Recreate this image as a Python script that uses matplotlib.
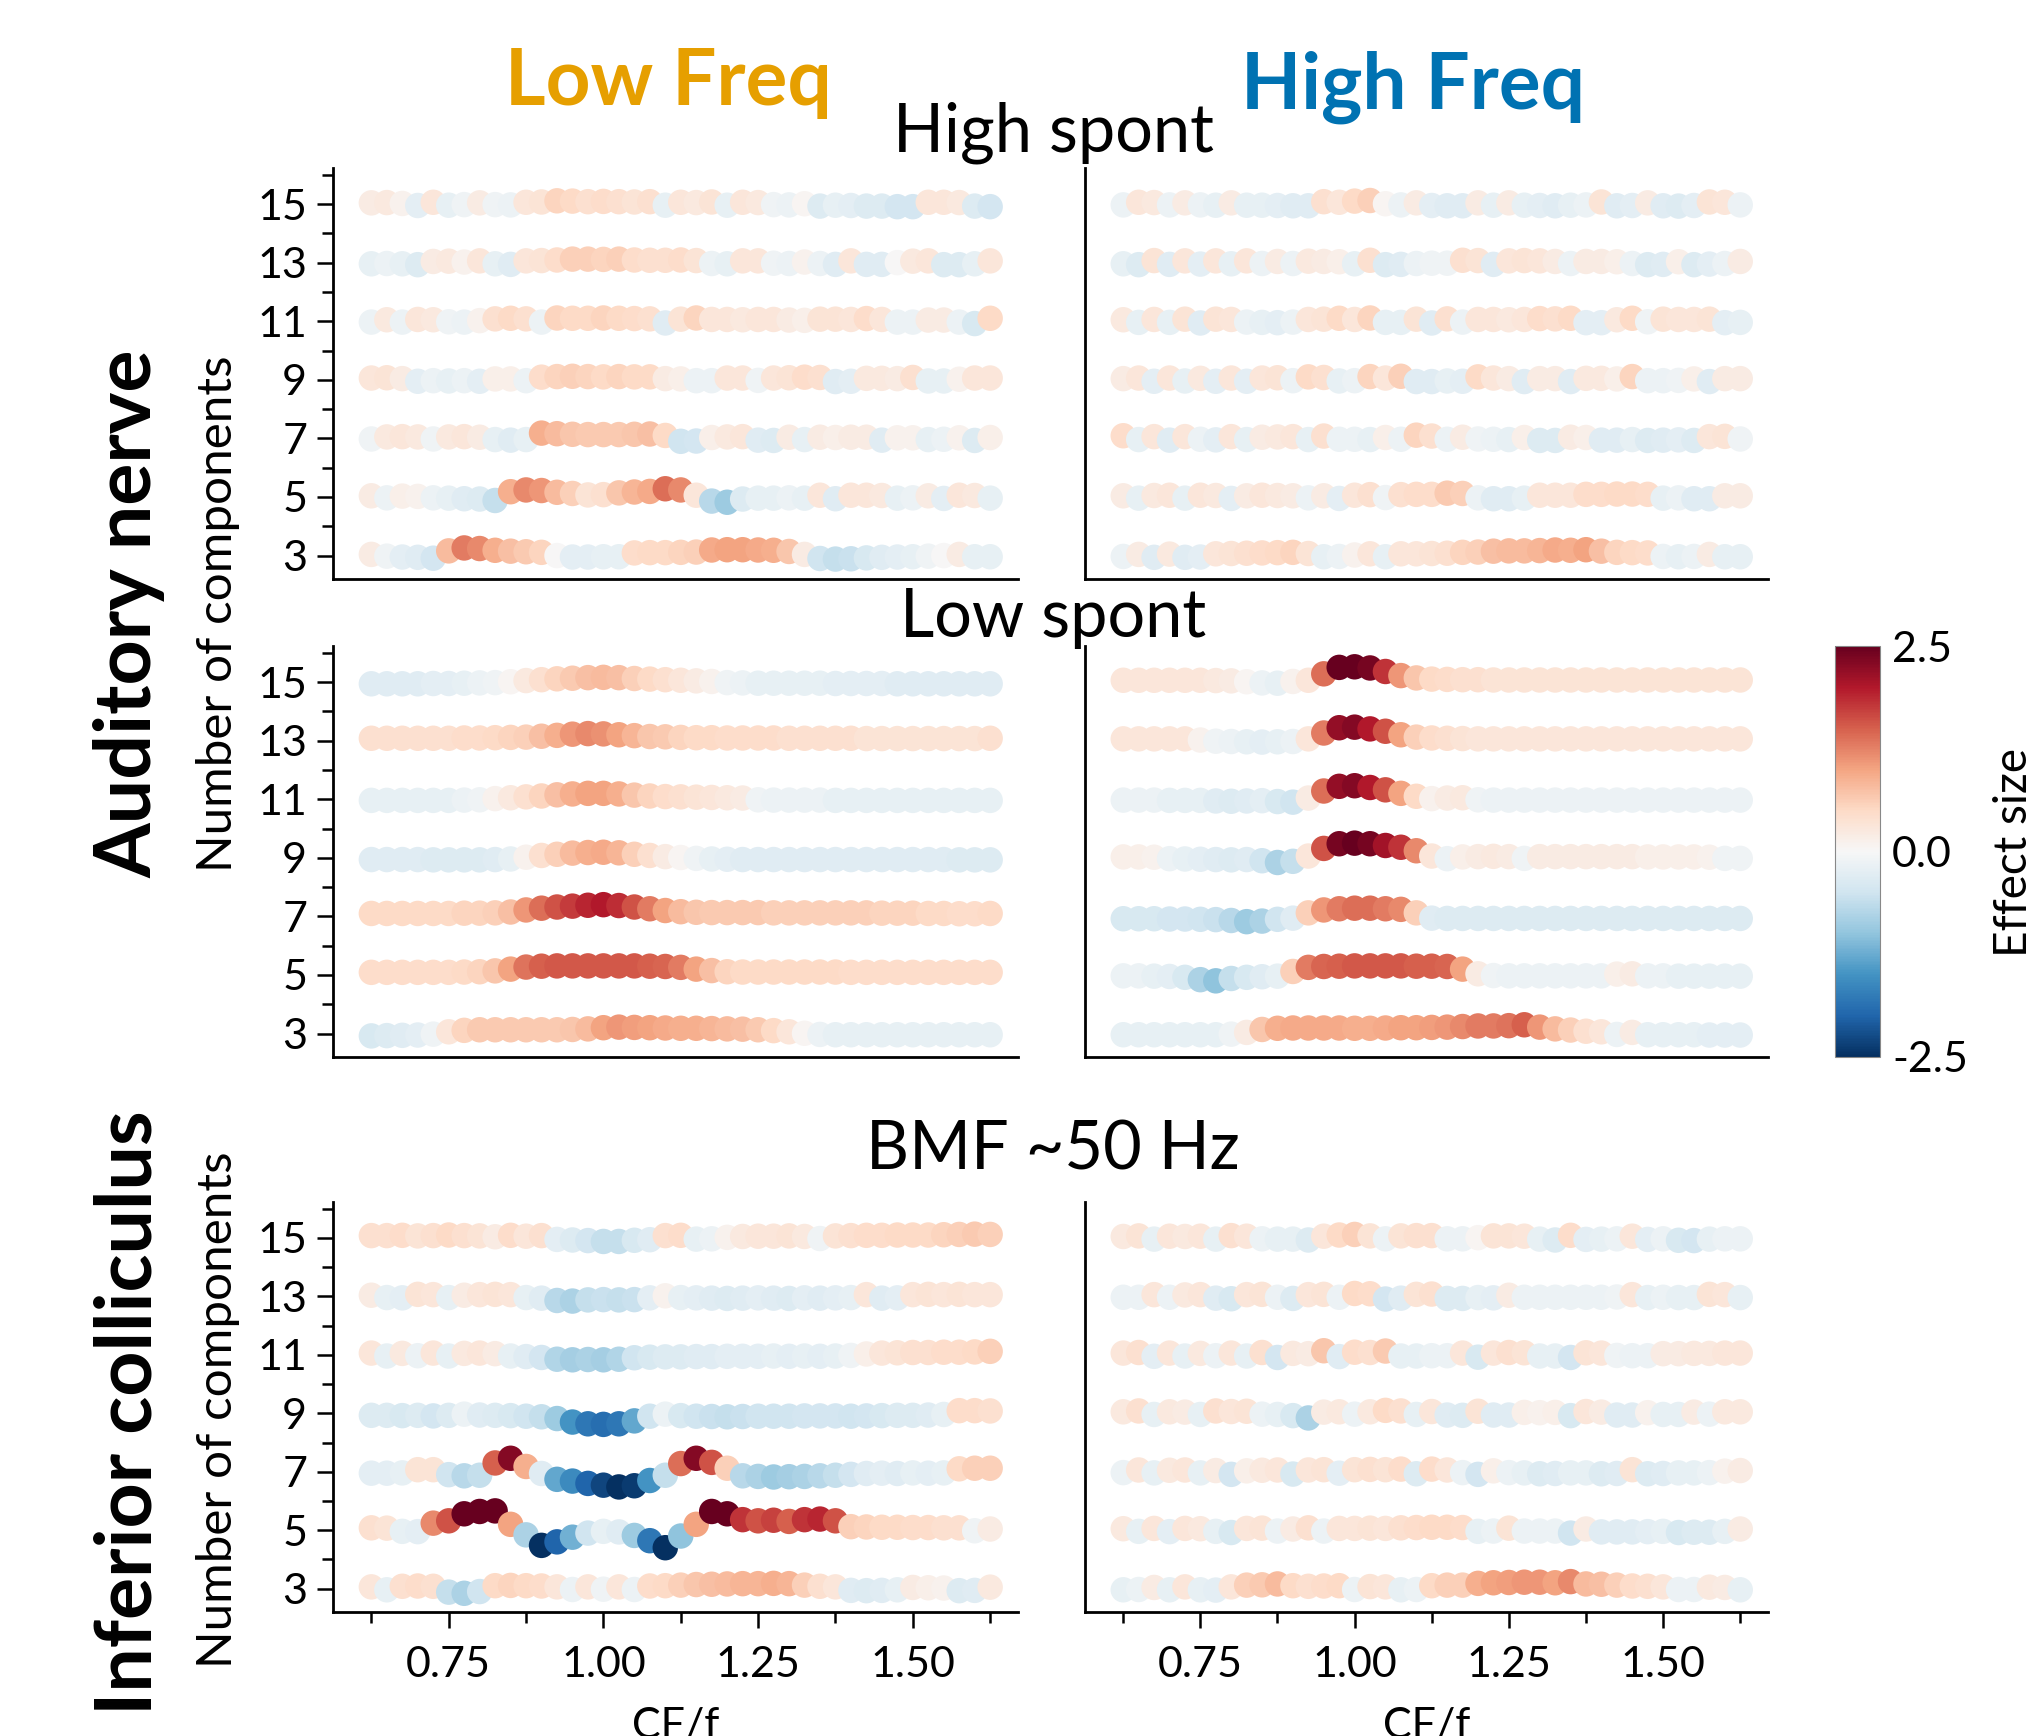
import numpy as np
import matplotlib
matplotlib.use("Agg")
import matplotlib.pyplot as plt
from matplotlib.cm import ScalarMappable
from matplotlib.colors import Normalize
from matplotlib.ticker import FixedLocator

plt.rcParams['font.family'] = ['Lato', 'DejaVu Sans']
plt.rcParams['axes.unicode_minus'] = False

# ---------------------------------------------------------------- data
CF_F = [0.625, 0.650, 0.675, 0.700, 0.725, 0.750, 0.775, 0.800, 0.825, 0.850,
        0.875, 0.900, 0.925, 0.950, 0.975, 1.000, 1.025, 1.050, 1.075, 1.100,
        1.125, 1.150, 1.175, 1.200, 1.225, 1.250, 1.275, 1.300, 1.325, 1.350,
        1.375, 1.400, 1.425, 1.450, 1.475, 1.500, 1.525, 1.550, 1.575, 1.600,
        1.625]
N_COMPONENTS = [3, 5, 7, 9, 11, 13, 15]

# Effect size per CF/f point, one list per number of components.
# Auditory nerve, high spont, low freq
AN_HS_LOW = {
    15: [0.2, 0.25, 0.1, -0.25, 0.3, -0.2, -0.1, 0.2, -0.1, -0.15, 0.3, 0.35, 0.55, 0.5, 0.4, 0.45, 0.4, 0.35, 0.4, -0.2,
         0.3, 0.25, 0.35, -0.2, 0.3, 0.25, -0.1, -0.15, 0.05, -0.35, -0.2, -0.25, -0.35, -0.35, -0.45, -0.45, 0.3, 0.3, 0.25, -0.35, -0.45],
    13: [-0.2, -0.15, -0.2, -0.35, 0.2, 0.25, 0.1, 0.3, -0.2, -0.3, 0.3, 0.35, 0.45, 0.6, 0.6, 0.55, 0.6, 0.45, 0.4, 0.4,
         0.45, 0.35, -0.15, -0.2, 0.3, 0.3, -0.1, -0.15, 0.1, -0.15, -0.3, 0.3, -0.3, -0.3, 0.0, 0.25, 0.3, -0.35, -0.35, -0.2, 0.3],
    11: [-0.15, 0.25, -0.15, 0.3, 0.25, -0.1, -0.15, 0.1, 0.4, 0.5, 0.4, -0.15, 0.55, 0.5, 0.5, 0.55, 0.5, 0.45, 0.4, -0.3,
         0.35, 0.55, 0.3, 0.3, 0.25, 0.3, 0.3, 0.2, 0.15, 0.35, 0.35, 0.3, 0.45, 0.3, -0.15, -0.15, 0.2, 0.2, -0.15, -0.4, 0.5],
    9: [0.3, 0.35, 0.2, -0.25, -0.15, -0.2, -0.15, -0.25, 0.15, 0.15, -0.15, 0.45, 0.55, 0.6, 0.55, 0.5, 0.55, 0.5, 0.5, 0.2,
        0.15, -0.15, -0.15, 0.3, 0.3, -0.1, 0.3, 0.35, 0.45, 0.4, -0.3, -0.25, 0.25, 0.25, 0.2, 0.4, -0.2, -0.2, 0.1, 0.3, 0.3],
    7: [-0.1, 0.25, 0.3, 0.25, -0.1, 0.25, 0.3, 0.2, -0.2, -0.3, -0.2, 0.9, 0.8, 0.7, 0.65, 0.65, 0.65, 0.7, 0.75, 0.5,
        -0.5, -0.45, 0.15, 0.25, 0.3, -0.3, -0.35, 0.2, -0.2, 0.2, 0.15, 0.2, 0.2, -0.3, 0.1, 0.1, -0.2, -0.15, 0.1, -0.35, 0.15],
    5: [0.2, -0.15, 0.15, 0.1, -0.15, -0.2, -0.3, -0.35, -0.6, 0.9, 1.2, 1.1, 0.8, 0.6, 0.35, 0.4, 0.7, 0.85, 0.95, 1.4,
        1.2, 0.3, -0.7, -0.9, -0.35, -0.2, -0.2, -0.15, -0.2, 0.3, -0.3, 0.3, 0.3, 0.25, -0.2, -0.15, 0.2, -0.25, 0.3, 0.25, -0.2],
    3: [0.2, -0.1, -0.25, -0.3, -0.45, 0.8, 1.3, 1.2, 0.9, 0.75, 0.65, 0.55, 0.0, -0.25, -0.25, -0.2, -0.2, 0.45, 0.5, 0.5,
        0.55, 0.6, 0.95, 1.0, 1.0, 0.95, 0.9, 0.7, 0.2, -0.5, -0.6, -0.55, -0.4, -0.3, -0.25, -0.2, -0.1, 0.0, 0.2, -0.2, -0.2],
}
# Auditory nerve, high spont, high freq
AN_HS_HIGH = {
    15: [-0.15, 0.3, 0.25, -0.15, 0.2, -0.15, -0.2, 0.2, -0.2, -0.2, -0.25, -0.3, -0.3, 0.4, 0.3, 0.5, 0.6, 0.05, -0.15, 0.2,
         -0.25, -0.3, -0.3, 0.2, -0.2, 0.2, -0.2, -0.25, -0.3, -0.2, -0.15, 0.35, -0.3, -0.25, 0.2, -0.3, -0.35, -0.25, 0.35, 0.3, -0.15],
    13: [-0.2, -0.35, 0.35, -0.3, 0.3, -0.25, 0.3, -0.2, 0.3, -0.15, 0.2, -0.15, 0.25, 0.2, 0.15, -0.2, 0.4, -0.35, -0.3, -0.15,
         -0.1, -0.1, 0.4, 0.35, -0.3, 0.3, 0.35, 0.3, 0.2, -0.15, 0.2, 0.2, 0.15, -0.15, -0.35, -0.3, 0.15, -0.35, -0.25, -0.15, 0.2],
    11: [0.25, -0.2, 0.3, -0.2, 0.35, -0.3, 0.35, 0.3, -0.15, -0.2, -0.25, -0.15, 0.3, 0.35, 0.5, 0.3, 0.55, -0.2, -0.2, 0.35,
         -0.3, 0.4, -0.15, 0.3, 0.3, 0.25, 0.3, 0.45, 0.4, 0.5, -0.25, -0.25, 0.25, 0.5, -0.1, 0.35, 0.3, 0.3, 0.35, -0.25, -0.2],
    9: [0.2, 0.3, -0.25, 0.3, -0.2, 0.25, -0.25, 0.3, -0.25, 0.3, 0.35, -0.15, 0.5, 0.4, -0.2, -0.15, 0.55, 0.3, 0.6, -0.3,
        -0.3, -0.2, -0.25, 0.5, 0.3, 0.2, -0.3, 0.2, 0.2, -0.3, 0.25, 0.25, 0.15, 0.55, -0.15, -0.15, -0.1, 0.15, -0.3, 0.2, 0.2],
    7: [0.45, -0.2, 0.3, -0.3, 0.3, -0.15, -0.25, 0.3, -0.2, 0.2, 0.25, 0.3, -0.2, 0.4, -0.15, -0.15, -0.2, 0.15, -0.15, 0.55,
        0.4, -0.15, 0.2, -0.1, -0.15, -0.2, 0.15, -0.35, -0.35, 0.2, 0.15, -0.3, -0.3, -0.2, -0.35, -0.3, -0.25, -0.35, 0.3, 0.35, -0.1],
    5: [0.2, -0.2, 0.25, 0.3, -0.2, 0.3, 0.25, -0.25, 0.2, 0.3, 0.25, 0.2, -0.15, 0.2, -0.25, 0.3, 0.4, -0.1, 0.4, 0.45,
        0.45, 0.65, 0.6, -0.15, -0.3, -0.3, -0.2, 0.3, 0.3, 0.3, 0.45, 0.45, 0.5, 0.5, 0.45, -0.2, -0.15, -0.3, -0.3, 0.2, 0.2],
    3: [-0.15, 0.2, -0.3, 0.25, -0.3, -0.25, 0.3, 0.35, 0.4, 0.45, 0.5, 0.55, 0.35, -0.2, -0.15, 0.1, 0.3, -0.2, 0.3, 0.3,
        0.35, 0.4, 0.55, 0.6, 0.75, 0.8, 0.8, 0.85, 0.95, 0.9, 1.0, 0.75, 0.55, 0.5, 0.45, -0.15, -0.2, -0.15, 0.2, -0.2, -0.2],
}
# Auditory nerve, low spont, low freq
AN_LS_LOW = {
    15: [-0.3, -0.3, -0.3, -0.3, -0.25, -0.25, -0.2, -0.15, -0.1, 0.05, 0.25, 0.4, 0.55, 0.65, 0.75, 0.8, 0.75, 0.6, 0.5, 0.4,
         0.3, 0.2, 0.1, -0.1, -0.15, -0.2, -0.2, -0.2, -0.2, -0.2, -0.25, -0.25, -0.25, -0.25, -0.3, -0.3, -0.3, -0.3, -0.3, -0.3, -0.3],
    13: [0.4, 0.4, 0.4, 0.4, 0.4, 0.4, 0.45, 0.45, 0.5, 0.55, 0.6, 0.75, 0.9, 1.1, 1.2, 1.15, 1.0, 0.85, 0.7, 0.65,
         0.55, 0.5, 0.5, 0.45, 0.45, 0.45, 0.45, 0.4, 0.4, 0.4, 0.4, 0.4, 0.35, 0.35, 0.35, 0.35, 0.35, 0.35, 0.35, 0.35, 0.4],
    11: [-0.2, -0.2, -0.2, -0.2, -0.2, -0.2, -0.15, -0.1, 0.1, 0.25, 0.4, 0.55, 0.75, 0.9, 1.0, 1.0, 0.9, 0.7, 0.55, 0.45,
         0.4, 0.35, 0.3, 0.25, 0.2, -0.1, -0.15, -0.15, -0.15, -0.15, -0.2, -0.2, -0.2, -0.2, -0.2, -0.2, -0.2, -0.2, -0.2, -0.2, -0.2],
    9: [-0.3, -0.3, -0.3, -0.3, -0.35, -0.35, -0.35, -0.35, -0.3, -0.2, 0.1, 0.4, 0.6, 0.8, 0.9, 0.95, 0.85, 0.6, 0.4, 0.2,
        0.05, -0.1, -0.2, -0.25, -0.3, -0.3, -0.3, -0.3, -0.3, -0.3, -0.3, -0.3, -0.3, -0.3, -0.3, -0.3, -0.3, -0.3, -0.35, -0.35, -0.35],
    7: [0.5, 0.5, 0.5, 0.5, 0.5, 0.5, 0.55, 0.55, 0.6, 0.75, 1.1, 1.4, 1.6, 1.75, 1.9, 2.0, 1.85, 1.6, 1.3, 1.0,
        0.8, 0.7, 0.65, 0.65, 0.65, 0.65, 0.6, 0.6, 0.6, 0.6, 0.6, 0.6, 0.6, 0.55, 0.55, 0.55, 0.5, 0.5, 0.45, 0.45, 0.5],
    5: [0.45, 0.45, 0.45, 0.45, 0.45, 0.45, 0.5, 0.55, 0.7, 1.0, 1.35, 1.5, 1.55, 1.55, 1.55, 1.55, 1.55, 1.55, 1.5, 1.45,
        1.3, 1.0, 0.75, 0.55, 0.5, 0.5, 0.5, 0.5, 0.5, 0.5, 0.5, 0.45, 0.45, 0.45, 0.45, 0.45, 0.45, 0.45, 0.45, 0.45, 0.45],
    3: [-0.4, -0.35, -0.3, -0.25, -0.1, 0.3, 0.55, 0.65, 0.65, 0.65, 0.65, 0.65, 0.65, 0.7, 0.8, 1.0, 1.1, 1.05, 1.0, 0.95,
        0.9, 0.9, 0.85, 0.8, 0.75, 0.65, 0.5, 0.3, 0.05, -0.15, -0.2, -0.2, -0.2, -0.2, -0.2, -0.2, -0.2, -0.2, -0.2, -0.2, -0.2],
}
# Auditory nerve, low spont, high freq
AN_LS_HIGH = {
    15: [0.3, 0.3, 0.3, 0.3, 0.3, 0.3, 0.25, 0.2, 0.05, -0.15, -0.2, 0.1, 0.3, 1.4, 2.5, 2.6, 2.4, 1.8, 1.1, 0.7,
         0.5, 0.45, 0.4, 0.4, 0.35, 0.35, 0.35, 0.35, 0.35, 0.35, 0.35, 0.35, 0.35, 0.35, 0.35, 0.35, 0.35, 0.35, 0.35, 0.35, 0.35],
    13: [0.3, 0.3, 0.3, 0.3, 0.3, 0.1, -0.1, -0.15, -0.2, -0.25, -0.2, -0.15, 0.3, 1.3, 2.2, 2.3, 2.0, 1.6, 1.0, 0.6,
         0.45, 0.4, 0.35, 0.3, 0.3, 0.3, 0.3, 0.3, 0.3, 0.3, 0.3, 0.3, 0.3, 0.3, 0.3, 0.3, 0.3, 0.3, 0.3, 0.3, 0.3],
    11: [-0.15, -0.15, -0.15, -0.2, -0.2, -0.2, -0.3, -0.35, -0.3, -0.25, -0.4, -0.5, 0.2, 1.4, 2.2, 2.3, 2.0, 1.6, 1.0, 0.5,
         0.1, 0.2, 0.25, -0.1, -0.15, -0.15, -0.15, -0.15, -0.15, -0.15, -0.15, -0.15, -0.15, -0.15, -0.15, -0.15, -0.15, -0.15, -0.15, -0.15, -0.15],
    9: [0.15, 0.15, 0.1, -0.15, -0.2, -0.25, -0.3, -0.35, -0.3, -0.5, -0.8, -0.6, 0.3, 1.6, 2.4, 2.5, 2.4, 2.1, 1.8, 1.2,
        0.3, -0.15, 0.15, 0.2, 0.25, 0.2, -0.1, 0.2, 0.2, 0.2, 0.2, 0.2, 0.2, 0.2, 0.15, 0.15, 0.15, 0.15, 0.1, -0.1, -0.1],
    7: [-0.4, -0.4, -0.4, -0.45, -0.45, -0.5, -0.55, -0.7, -0.9, -0.8, -0.5, -0.3, 0.6, 1.1, 1.3, 1.4, 1.4, 1.3, 1.2, 0.6,
        -0.3, -0.35, -0.35, -0.35, -0.35, -0.35, -0.35, -0.35, -0.35, -0.35, -0.35, -0.35, -0.35, -0.35, -0.35, -0.35, -0.35, -0.35, -0.35, -0.35, -0.35],
    5: [-0.15, -0.15, -0.2, -0.25, -0.4, -0.8, -1.0, -0.6, -0.4, -0.3, -0.2, 0.6, 1.3, 1.45, 1.5, 1.55, 1.55, 1.55, 1.55, 1.5,
        1.5, 1.45, 1.0, 0.2, -0.1, -0.15, -0.15, -0.15, -0.15, -0.15, -0.15, -0.15, 0.15, 0.2, -0.15, -0.15, -0.2, -0.2, -0.2, -0.2, -0.2],
    3: [-0.2, -0.2, -0.2, -0.2, -0.2, -0.2, -0.2, -0.1, 0.2, 0.7, 0.9, 0.95, 0.95, 0.95, 0.95, 0.9, 0.9, 0.95, 1.0, 1.0,
        1.05, 1.1, 1.2, 1.3, 1.3, 1.35, 1.5, 1.1, 0.8, 0.6, 0.4, 0.3, -0.15, 0.2, -0.2, -0.2, -0.2, -0.2, -0.25, -0.25, -0.25],
}
# Inferior colliculus, BMF ~50 Hz, low freq
IC_LOW = {
    15: [0.4, 0.4, 0.45, 0.35, 0.4, 0.5, 0.4, 0.35, 0.2, 0.45, 0.3, 0.4, -0.25, -0.35, -0.45, -0.6, -0.6, -0.4, -0.3, 0.4,
         0.45, -0.2, -0.15, 0.1, 0.25, 0.3, 0.3, 0.35, 0.25, -0.1, 0.35, 0.4, 0.45, 0.45, 0.5, 0.5, 0.5, 0.55, 0.6, 0.65, 0.6],
    13: [0.2, -0.2, -0.25, 0.35, 0.3, -0.2, 0.2, 0.3, 0.35, 0.3, -0.2, -0.3, -0.7, -0.8, -0.6, -0.55, -0.6, -0.55, -0.25, 0.1,
         -0.2, -0.25, -0.3, -0.35, -0.3, -0.25, -0.3, -0.35, -0.25, -0.3, -0.25, -0.2, 0.3, -0.3, -0.25, 0.3, 0.35, 0.3, 0.35, 0.3, 0.3],
    11: [0.3, -0.2, 0.25, -0.15, 0.3, -0.2, 0.25, 0.3, 0.2, -0.2, -0.3, -0.45, -0.75, -0.85, -0.8, -0.85, -0.75, -0.5, -0.4, -0.35,
         -0.35, -0.3, -0.3, -0.25, -0.25, -0.25, -0.2, -0.25, -0.2, -0.25, -0.2, -0.1, 0.15, 0.3, 0.35, 0.4, 0.4, 0.45, 0.45, 0.5, 0.6],
    9: [-0.35, -0.35, -0.4, -0.35, -0.45, -0.35, -0.15, -0.3, -0.35, -0.4, -0.5, -0.6, -0.9, -1.5, -1.8, -1.9, -1.8, -1.3, -0.5, -0.15,
        -0.4, -0.5, -0.55, -0.6, -0.55, -0.5, -0.5, -0.5, -0.45, -0.45, -0.45, -0.5, -0.45, -0.4, -0.35, -0.35, -0.3, -0.2, 0.45, 0.45, 0.4],
    7: [-0.25, -0.25, -0.2, 0.35, 0.35, -0.5, -0.7, -0.6, 1.5, 2.3, 0.9, -0.3, -1.3, -1.6, -2.0, -2.3, -2.6, -2.4, -1.5, -0.6,
        1.4, 2.3, 1.6, 0.6, -0.7, -0.8, -0.9, -0.85, -0.8, -0.7, -0.6, -0.45, -0.3, -0.25, -0.3, -0.2, -0.25, -0.2, 0.5, 0.6, 0.6],
    5: [0.4, 0.35, -0.2, -0.25, 1.2, 1.6, 2.8, 3.2, 3.3, 1.0, -0.8, -2.6, -2.0, -1.2, -0.5, -0.2, -0.3, -0.9, -1.8, -3.0,
        -1.0, 1.0, 3.2, 2.8, 1.8, 1.6, 1.7, 1.5, 1.8, 1.9, 1.6, 0.6, 0.55, 0.5, 0.5, 0.45, 0.45, 0.4, 0.4, -0.1, 0.2],
    3: [0.3, -0.2, 0.4, 0.45, 0.4, -0.6, -0.8, -0.5, 0.5, 0.55, 0.5, 0.45, 0.3, -0.15, 0.3, -0.1, 0.3, -0.15, 0.45, 0.5,
        0.6, 0.7, 0.75, 0.8, 0.85, 0.85, 0.9, 0.85, 0.6, 0.4, 0.3, -0.3, -0.35, -0.3, -0.2, 0.2, 0.15, 0.1, -0.35, -0.3, 0.25],
}
# Inferior colliculus, BMF ~50 Hz, high freq
IC_HIGH = {
    15: [0.25, 0.35, -0.2, 0.3, 0.25, 0.3, -0.2, 0.4, 0.3, -0.15, -0.2, -0.2, -0.35, 0.3, 0.5, 0.6, 0.35, -0.15, 0.35, 0.4,
         0.4, -0.15, -0.15, 0.05, 0.35, 0.35, 0.3, -0.2, -0.35, 0.45, -0.25, -0.2, -0.15, 0.3, -0.25, -0.15, -0.4, -0.45, -0.2, -0.15, -0.15],
    13: [-0.15, -0.15, 0.3, -0.15, 0.25, 0.3, -0.3, -0.4, 0.3, 0.35, -0.15, -0.35, 0.3, 0.35, -0.15, 0.5, 0.45, -0.45, -0.3, 0.35,
         0.4, -0.35, -0.35, -0.2, -0.25, 0.2, -0.15, -0.15, -0.15, -0.15, -0.15, -0.15, -0.1, 0.3, -0.2, -0.15, -0.2, -0.2, 0.35, 0.3, -0.2],
    11: [0.3, 0.4, -0.25, 0.3, -0.2, 0.25, -0.15, 0.3, -0.2, 0.4, -0.45, 0.25, 0.2, 0.7, -0.3, 0.45, 0.4, 0.65, -0.2, -0.2,
         -0.15, -0.15, 0.3, -0.4, 0.3, 0.4, 0.35, -0.2, -0.2, -0.45, 0.35, 0.3, -0.1, -0.15, -0.15, 0.2, 0.2, 0.25, 0.25, 0.3, 0.3],
    9: [0.25, 0.4, -0.2, 0.25, 0.2, -0.2, 0.4, 0.3, 0.35, -0.15, -0.2, -0.4, -0.8, 0.2, 0.25, -0.15, 0.25, 0.5, 0.4, -0.2,
        0.3, -0.3, -0.35, 0.35, -0.3, -0.3, 0.15, 0.1, 0.15, -0.4, 0.3, 0.2, -0.3, -0.3, 0.1, -0.2, -0.2, 0.2, -0.15, 0.25, 0.25],
    7: [-0.15, 0.3, -0.2, 0.25, 0.3, -0.2, 0.2, -0.45, 0.15, 0.25, 0.3, -0.4, 0.3, 0.35, -0.25, 0.35, 0.4, 0.35, 0.45, -0.35,
        0.45, 0.3, -0.15, -0.45, 0.15, -0.15, -0.2, -0.35, -0.3, -0.2, -0.2, -0.35, -0.3, 0.35, -0.35, -0.3, -0.2, -0.2, -0.15, 0.1, 0.2],
    5: [0.25, -0.2, 0.3, -0.25, 0.3, 0.25, -0.2, -0.4, 0.3, 0.35, -0.15, 0.2, 0.4, -0.15, 0.3, 0.3, 0.35, 0.3, 0.4, 0.45,
        0.5, 0.5, 0.45, -0.2, -0.15, 0.35, -0.15, -0.15, -0.15, -0.5, 0.2, -0.3, -0.3, -0.3, -0.25, -0.2, -0.4, -0.35, -0.35, -0.2, 0.2],
    3: [-0.2, -0.15, 0.2, -0.2, 0.3, -0.2, -0.25, 0.3, 0.6, 0.65, 0.8, 0.5, 0.4, 0.45, 0.5, -0.15, 0.35, 0.3, -0.2, -0.15,
        0.5, 0.6, 0.6, 0.9, 1.0, 1.05, 1.1, 1.1, 1.0, 1.2, 0.8, 0.75, 0.6, 0.45, 0.4, 0.3, -0.15, -0.15, 0.25, 0.2, -0.2],
}

COLUMN_TITLES = ["Low Freq", "High Freq"]
COLUMN_COLORS = ["#E69F00", "#0072B2"]
ROW_TITLES = ["High spont", "Low spont", "BMF ~50 Hz"]
REGION_LABELS = ["Auditory nerve", "Inferior colliculus"]
Y_LABEL = "Number of components"
X_LABEL = "CF/f"
CBAR_LABEL = "Effect size"
Y_TICKS = [3, 5, 7, 9, 11, 13, 15]
Y_MINOR_TICKS = [4, 6, 8, 10, 12, 14, 16]
X_TICKS = [0.75, 1.00, 1.25, 1.50]
X_TICK_LABELS = ["0.75", "1.00", "1.25", "1.50"]
X_MINOR_TICKS = [0.625, 0.875, 1.125, 1.375, 1.625]
CBAR_TICKS = [-2.5, 0.0, 2.5]
CBAR_TICK_LABELS = ["-2.5", "0.0", "2.5"]

PANELS = [[AN_HS_LOW, AN_HS_HIGH],
          [AN_LS_LOW, AN_LS_HIGH],
          [IC_LOW, IC_HIGH]]

for row in PANELS:
    for panel in row:
        for n in N_COMPONENTS:
            assert len(panel[n]) == len(CF_F), (n, len(panel[n]))

# ---------------------------------------------------------------- layout
W, H = 2026, 1736
DPI = 200
fig = plt.figure(figsize=(W / DPI, H / DPI), dpi=DPI)


def fx(px):
    return px / W


def fy(py):
    return 1 - py / H


COL_L = [333, 1085]
COL_R = [1018, 1768]
ROW_T = [168, 646, 1202]
ROW_B = [579, 1057, 1612]

norm = Normalize(vmin=-2.5, vmax=2.5)
cmap = plt.get_cmap('RdBu_r')
OFFSET = 0.2          # vertical shift of the marker per unit effect size
TICK_FS = 15.5

for r in range(3):
    for c in range(2):
        ax = fig.add_axes([fx(COL_L[c]), fy(ROW_B[r]),
                           (COL_R[c] - COL_L[c]) / W, (ROW_B[r] - ROW_T[r]) / H])
        data = PANELS[r][c]
        for n in N_COMPONENTS:
            e = np.asarray(data[n], dtype=float)
            ax.scatter(CF_F, n + OFFSET * e, c=e, cmap=cmap, norm=norm,
                       s=84, linewidths=0)
        ax.set_xlim(0.563, 1.67)
        ax.set_ylim(2.2, 16.23)
        for side in ('top', 'right'):
            ax.spines[side].set_visible(False)
        for side in ('left', 'bottom'):
            ax.spines[side].set_linewidth(1.0)
        ax.tick_params(which='major', length=5.8, width=0.9, labelsize=TICK_FS)
        ax.tick_params(which='minor', length=4.0, width=0.9)
        if c == 0:
            ax.set_yticks(Y_TICKS)
            ax.yaxis.set_minor_locator(FixedLocator(Y_MINOR_TICKS))
            ax.tick_params(axis='y', which='major', pad=3.5)
        else:
            ax.set_yticks([])
        if r == 2:
            ax.set_xticks(X_TICKS)
            ax.set_xticklabels(X_TICK_LABELS)
            ax.xaxis.set_minor_locator(FixedLocator(X_MINOR_TICKS))
            ax.tick_params(axis='x', which='major', pad=6.5)
            ax.set_xlabel(X_LABEL, fontsize=TICK_FS, labelpad=8)
        else:
            ax.set_xticks([])

# colorbar
cax = fig.add_axes([fx(1835), fy(1057), 45 / W, 411 / H])
cb = fig.colorbar(ScalarMappable(norm=norm, cmap=cmap), cax=cax)
cb.set_ticks(CBAR_TICKS)
cb.set_ticklabels(CBAR_TICK_LABELS)
cb.ax.tick_params(length=0, labelsize=TICK_FS, pad=4.3)
cb.outline.set_linewidth(0.4)
cb.outline.set_edgecolor('#888888')
fig.text(fx(1993), fy(852), CBAR_LABEL, rotation=90, ha='left', va='center',
         fontsize=16.5)

# column titles
fig.text(fx(668), fy(105), COLUMN_TITLES[0], color=COLUMN_COLORS[0],
         fontsize=28.2, fontweight='bold', ha='center', va='baseline')
fig.text(fx(1413), fy(109), COLUMN_TITLES[1], color=COLUMN_COLORS[1],
         fontsize=28.2, fontweight='bold', ha='center', va='baseline')

# row titles
for title, base in zip(ROW_TITLES, [152, 637, 1169]):
    fig.text(fx(1053), fy(base), title, fontsize=24, ha='center', va='baseline')

# region labels
fig.text(fx(93), fy(614), REGION_LABELS[0], rotation=90, fontsize=28.4,
         fontweight='bold', ha='left', va='center')
fig.text(fx(93), fy(1413), REGION_LABELS[1], rotation=90, fontsize=28.4,
         fontweight='bold', ha='left', va='center')

# shared y labels
fig.text(fx(196), fy(614), Y_LABEL, rotation=90, fontsize=17.8,
         ha='left', va='center')
fig.text(fx(196), fy(1410), Y_LABEL, rotation=90, fontsize=17.8,
         ha='left', va='center')

fig.savefig('out.png', dpi=DPI)
